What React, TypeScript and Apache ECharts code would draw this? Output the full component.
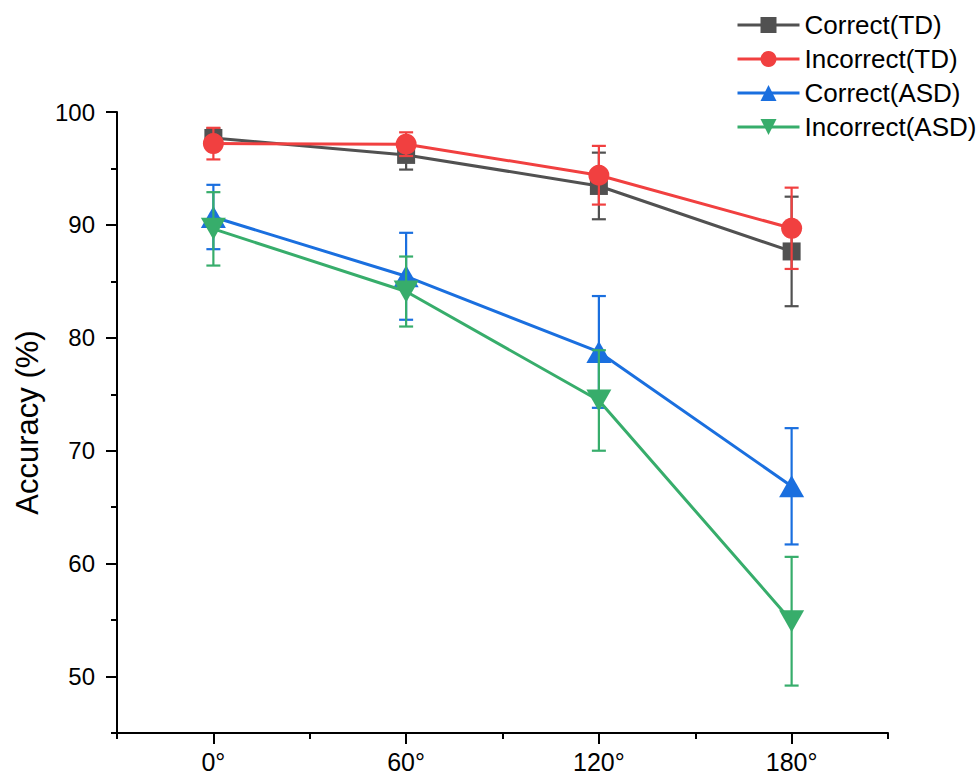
import React, { useEffect, useRef } from "react";
import * as echarts from "echarts";

const angles = [0, 60, 120, 180];
const xTickLabels = ["0°", "60°", "120°", "180°"];
const yTickValues = [50, 60, 70, 80, 90, 100];

const seriesNames = ["Correct(TD)", "Incorrect(TD)", "Correct(ASD)", "Incorrect(ASD)"];
const correctTD = [97.7, 96.2, 93.45, 87.65];
const correctTDErr = [0.85, 1.3, 2.95, 4.85];
const incorrectTD = [97.2, 97.15, 94.4, 89.7];
const incorrectTDErr = [1.4, 1.05, 2.6, 3.6];
const correctASD = [90.7, 85.45, 78.75, 66.85];
const correctASDErr = [2.85, 3.85, 4.95, 5.15];
const incorrectASD = [89.65, 84.1, 74.45, 54.9];
const incorrectASDErr = [3.25, 3.1, 4.45, 5.7];

const colors = ["#515151", "#F14040", "#1A6FDF", "#37AD6B"];
const symbols = ["rect", "circle", "triangle", "path://M0,0 L10,0 L5,9 Z"];
const symbolSizes: any[] = [18, 21, [25, 22], [25, 22]];

const FONT = "Liberation Sans, Arial, sans-serif";

export default function App() {
  const ref = useRef<HTMLDivElement>(null);
  useEffect(() => {
    if (!ref.current) return;
    const chart = echarts.init(ref.current, null, { renderer: "svg" });
    const means = [correctTD, incorrectTD, correctASD, incorrectASD];
    const errs = [correctTDErr, incorrectTDErr, correctASDErr, incorrectASDErr];

    const lineSeries = means.map((m, i) => ({
      type: "line",
      name: seriesNames[i],
      data: angles.map((a, j) => [a, m[j]]),
      symbol: symbols[i],
      symbolSize: symbolSizes[i],
      itemStyle: { color: colors[i] },
      lineStyle: { color: colors[i], width: 3 },
      xAxisIndex: 0,
      yAxisIndex: 0,
      z: 3 + i,
    }));

    const errSeries = means.map((m, i) => ({
      type: "custom",
      xAxisIndex: 0,
      yAxisIndex: 0,
      z: 3 + i,
      data: angles.map((a, j) => [a, m[j] - errs[i][j], m[j] + errs[i][j]]),
      encode: { x: 0, y: [1, 2] },
      renderItem: (params: any, api: any) => {
        const x = api.value(0);
        const top = api.coord([x, api.value(2)]);
        const bot = api.coord([x, api.value(1)]);
        const w = 7;
        const style = { stroke: colors[i], lineWidth: 2.2 };
        return {
          type: "group",
          children: [
            { type: "line", shape: { x1: top[0], y1: top[1], x2: bot[0], y2: bot[1] }, style },
            { type: "line", shape: { x1: top[0] - w, y1: top[1], x2: top[0] + w, y2: top[1] }, style },
            { type: "line", shape: { x1: bot[0] - w, y1: bot[1], x2: bot[0] + w, y2: bot[1] }, style },
          ],
        };
      },
    }));

    const axisLineStyle = { color: "#000", width: 2 };

    chart.setOption({
      animation: false,
      backgroundColor: "#fff",
      grid: { left: 117, top: 112, right: 88, bottom: 46, containLabel: false },
      legend: {
        data: seriesNames,
        orient: "vertical",
        left: 731,
        top: 7,
        itemWidth: 62,
        itemHeight: 20,
        itemGap: 8,
        lineStyle: { width: 3 },
        textStyle: { fontSize: 26, fontFamily: FONT, color: "#000", lineHeight: 26 },
      },
      xAxis: [
        {
          type: "value",
          position: "bottom",
          min: -30,
          max: 210,
          interval: 30,
          axisLine: { onZero: false, lineStyle: axisLineStyle },
          axisTick: { customValues: angles, length: 11, lineStyle: axisLineStyle },
          axisLabel: {
            customValues: angles,
            formatter: (v: number) => xTickLabels[angles.indexOf(v)] ?? "",
            fontSize: 25,
            fontFamily: FONT,
            color: "#000",
            margin: 16,
          },
          splitLine: { show: false },
        },
        {
          type: "value",
          position: "bottom",
          min: -30,
          max: 210,
          interval: 30,
          axisLine: { show: false, onZero: false },
          axisTick: { customValues: [-30, 30, 90, 150, 210], length: 6, lineStyle: axisLineStyle },
          axisLabel: { show: false },
          splitLine: { show: false },
        },
      ],
      yAxis: [
        {
          type: "value",
          position: "left",
          min: 45,
          max: 100,
          interval: 5,
          name: "Accuracy (%)",
          nameLocation: "middle",
          nameGap: 74,
          nameTextStyle: { fontSize: 31, fontFamily: FONT, color: "#000" },
          axisLine: { show: true, onZero: false, lineStyle: axisLineStyle },
          axisTick: { show: true, customValues: yTickValues, length: 11, lineStyle: axisLineStyle },
          axisLabel: {
            customValues: yTickValues,
            fontSize: 24,
            fontFamily: FONT,
            color: "#000",
            margin: 22,
          },
          splitLine: { show: false },
        },
        {
          type: "value",
          position: "left",
          min: 45,
          max: 100,
          interval: 5,
          axisLine: { show: false, onZero: false },
          axisTick: { show: true, customValues: [45, 55, 65, 75, 85, 95], length: 6, lineStyle: axisLineStyle },
          axisLabel: { show: false },
          splitLine: { show: false },
        },
      ],
      series: [...lineSeries, ...errSeries],
    });
    return () => chart.dispose();
  }, []);
  return (
    <div
      ref={ref}
      style={{ position: "fixed", left: 0, top: 0, width: 976, height: 779, background: "#fff" }}
    />
  );
}
